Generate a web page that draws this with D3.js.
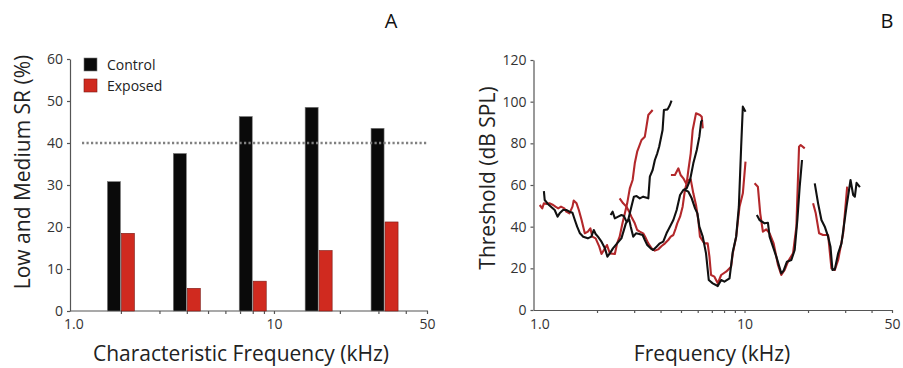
<!DOCTYPE html>
<html>
<head>
<meta charset="utf-8">
<script src="https://cdn.jsdelivr.net/npm/d3@7"></script>
<style>
    body { margin: 0; background: #fff; }
    svg { font-family: "Open Sans", sans-serif; }
</style>
</head>
<body>
<div id="chart"></div>
<script>
// panel A - bars at octave centre frequencies
var bandFreqs = [2, 4, 8, 16, 32];
var controlPct = [30.8, 37.5, 46.3, 48.5, 43.5];
var exposedPct = [18.5, 5.4, 7.1, 14.4, 21.2];
var criterionPct = 40;
var yTicksA = [0, 10, 20, 30, 40, 50, 60];
var seriesNames = ["Control", "Exposed"];

// panel B - tuning curves, [kHz, dB SPL]
var ctl1 = [[1.12, 57.1], [1.13, 52.8], [1.17, 50.9], [1.21, 49.6], [1.26, 48.0], [1.30, 44.8], [1.33, 46.4], [1.38, 48.0], [1.43, 48.0], [1.48, 47.2], [1.53, 46.7], [1.57, 43.2], [1.61, 40.0], [1.66, 36.8], [1.72, 35.2], [1.81, 34.4], [1.88, 35.2], [1.93, 38.4], [1.97, 36.5], [2.02, 35.2], [2.10, 32.8], [2.18, 29.6], [2.24, 25.6], [2.30, 27.2], [2.38, 29.6], [2.49, 32.0], [2.61, 34.4], [2.74, 41.6], [2.81, 43.2], [2.91, 49.6], [2.99, 54.4], [3.08, 54.7], [3.19, 53.6], [3.31, 54.4], [3.50, 53.6], [3.56, 64.0], [3.67, 67.2], [3.76, 72.0], [3.86, 75.2], [3.94, 78.4], [4.00, 81.6], [4.09, 86.4], [4.15, 96.0], [4.32, 96.3], [4.43, 98.4], [4.51, 100.5]];
var ctl2 = [[2.32, 45.6], [2.37, 47.2], [2.43, 44.0], [2.52, 44.8], [2.61, 45.6], [2.68, 45.1], [2.76, 42.4], [2.84, 43.5], [2.89, 40.0], [2.97, 35.2], [3.06, 36.8], [3.17, 36.5], [3.29, 36.0], [3.37, 33.6], [3.46, 31.2], [3.59, 29.6], [3.69, 28.8], [3.83, 30.4], [3.97, 32.0], [4.12, 32.8], [4.27, 36.8], [4.43, 40.0], [4.60, 43.2], [4.77, 48.0], [4.95, 55.2], [5.13, 57.6], [5.32, 58.4], [5.52, 62.4], [5.72, 70.4], [5.94, 76.8], [6.11, 83.2], [6.23, 90.4], [6.31, 91.2]];
var ctl3 = [[5.22, 57.6], [5.42, 56.8], [5.62, 53.6], [5.83, 48.8], [5.98, 46.4], [6.11, 40.0], [6.34, 35.2], [6.57, 27.2], [6.77, 14.4], [7.07, 12.8], [7.47, 11.5], [7.75, 14.4], [8.03, 13.6], [8.49, 15.2], [8.80, 28.0], [9.13, 35.2], [9.40, 49.6], [9.64, 78.4], [9.82, 97.6], [10.11, 95.2]];
var ctl4 = [[11.44, 45.6], [11.78, 43.2], [12.45, 41.6], [12.91, 41.9], [13.15, 35.2], [13.64, 30.4], [14.15, 25.6], [14.94, 17.6], [15.32, 18.9], [15.89, 23.2], [16.67, 24.0], [17.29, 28.8], [17.80, 43.2], [18.26, 59.2], [18.73, 72.0]];
var ctl5 = [[21.52, 60.8], [22.32, 51.2], [23.15, 43.2], [24.01, 40.0], [24.90, 35.2], [25.55, 30.4], [26.11, 19.2], [26.79, 19.5], [27.78, 27.2], [28.81, 32.0], [30.44, 49.6], [31.80, 62.4], [32.74, 55.2], [33.34, 54.4], [33.96, 61.0], [35.23, 59.0]];

var exp1 = [[1.07, 50.4], [1.10, 48.8], [1.12, 51.2], [1.15, 50.9], [1.19, 51.2], [1.24, 50.4], [1.27, 49.6], [1.31, 48.8], [1.35, 49.6], [1.40, 48.8], [1.43, 47.2], [1.48, 46.4], [1.53, 49.6], [1.55, 52.5], [1.60, 51.2], [1.64, 48.0], [1.69, 43.2], [1.75, 36.8], [1.81, 37.6], [1.86, 39.2], [1.90, 35.2], [1.97, 34.4], [2.05, 30.4], [2.10, 26.9], [2.18, 29.6], [2.23, 31.2], [2.30, 27.2], [2.43, 26.9], [2.49, 32.0], [2.56, 35.2], [2.64, 41.6], [2.71, 46.4], [2.78, 51.2], [2.86, 58.4], [2.95, 62.4], [3.02, 70.4], [3.10, 76.0], [3.25, 81.6], [3.37, 83.2], [3.43, 88.0], [3.50, 93.6], [3.67, 96.0]];
var exp2 = [[2.56, 53.6], [2.66, 51.2], [2.76, 49.6], [2.84, 47.2], [2.91, 44.8], [3.02, 41.6], [3.10, 38.4], [3.19, 37.6], [3.31, 36.8], [3.41, 34.4], [3.50, 32.0], [3.63, 29.6], [3.76, 28.5], [3.90, 29.1], [4.05, 30.7], [4.20, 32.0], [4.35, 33.6], [4.47, 35.2], [4.60, 36.0], [4.72, 39.2], [4.80, 41.6], [4.95, 44.8], [5.09, 49.6], [5.22, 57.6], [5.32, 60.8], [5.42, 67.2], [5.56, 75.2], [5.68, 86.4], [5.89, 94.4], [6.15, 93.6], [6.27, 92.8], [6.34, 87.2]];
var exp3 = [[4.48, 64.8], [4.68, 64.8], [4.86, 68.0], [4.98, 64.8], [5.13, 63.2], [5.28, 60.8], [5.42, 62.4], [5.56, 62.7], [5.72, 56.0], [5.89, 50.4], [6.04, 43.2], [6.15, 35.2], [6.45, 32.0], [6.69, 32.0], [6.82, 25.6], [6.94, 16.8], [7.20, 16.0], [7.47, 12.8], [7.75, 16.8], [8.18, 18.4], [8.64, 20.8], [8.80, 27.2], [9.13, 35.2], [9.47, 49.6], [9.82, 56.0], [10.11, 71.2]];
var exp4 = [[11.16, 60.8], [11.57, 59.2], [11.87, 46.4], [12.22, 37.6], [12.68, 38.7], [13.15, 36.8], [13.74, 32.0], [14.41, 21.6], [14.94, 16.8], [15.49, 19.2], [16.07, 23.2], [16.98, 27.2], [17.61, 40.0], [18.13, 78.4], [18.46, 79.2], [19.29, 77.6]];
var exp5 = [[21.13, 51.2], [21.76, 46.4], [22.57, 36.8], [23.57, 36.0], [24.90, 36.0], [25.82, 20.0], [26.79, 19.2], [27.78, 24.0], [29.35, 36.8], [30.66, 59.2]];

var yTicksB = [0, 20, 40, 60, 80, 100, 120];
var freqTicks = [2, 3, 4, 5, 6, 7, 8, 9, 10, 20, 30, 40, 50];

var barBlack = "#0a0a0a";
var barRed = "#d02a1f";
var lineBlack = "#111";
var lineRed = "#b3282b";

var svg = d3.select("#chart")
    .append("svg")
    .attr("width", 903)
    .attr("height", 368);

function styleAxis(g) {
    g.selectAll("path, line").attr("stroke", "#555").attr("stroke-width", 1.2);
    g.selectAll("text").attr("fill", "#333").style("font-size", "14px").style("font-family", "Open Sans, sans-serif");
}

function drawPanelA() {
    var x = d3.scaleLog().domain([1, 50]).range([55, 427]);
    var y = d3.scaleLinear().domain([0, 60]).range([311, 59]);
    var g = svg.append("g");

    // x axis: drawn from 1.0 position at the y axis
    var xa = g.append("g")
        .attr("transform", "translate(0,311)")
        .call(d3.axisBottom(x)
            .tickValues(freqTicks)
            .tickSize(3)
            .tickFormat(function (d) { return (d === 10 || d === 50) ? d : ""; }));
    xa.select(".domain").remove();
    xa.append("line").attr("x1", 70).attr("x2", 428).attr("y1", 0).attr("y2", 0);
    xa.append("text").attr("x", 64).attr("y", 8).attr("dy", "0.71em")
        .attr("text-anchor", "start").text("1.0");
    xa.selectAll(".tick text").attr("y", 8);
    styleAxis(xa);

    var ya = g.append("g")
        .attr("transform", "translate(70,0)")
        .call(d3.axisLeft(y).tickValues(yTicksA).tickSize(3).tickSizeOuter(0).tickPadding(4));
    styleAxis(ya);

    // bars
    g.selectAll(".ctl")
        .data(bandFreqs)
        .enter()
        .append("rect")
        .attr("x", function (d) { return x(d) - 13.5; })
        .attr("y", function (d, i) { return y(controlPct[i]); })
        .attr("width", 13)
        .attr("height", function (d, i) { return 311 - y(controlPct[i]); })
        .attr("fill", barBlack)
        .attr("stroke", "#777")
        .attr("stroke-width", 0.6);

    g.selectAll(".exp")
        .data(bandFreqs)
        .enter()
        .append("rect")
        .attr("x", function (d) { return x(d) + 0.5; })
        .attr("y", function (d, i) { return y(exposedPct[i]); })
        .attr("width", 13)
        .attr("height", function (d, i) { return 311 - y(exposedPct[i]); })
        .attr("fill", barRed)
        .attr("stroke", "#7a1a14")
        .attr("stroke-width", 0.6);

    // 40% line
    g.append("line")
        .attr("x1", 82).attr("x2", 428)
        .attr("y1", y(criterionPct)).attr("y2", y(criterionPct))
        .attr("stroke", "#808080")
        .attr("stroke-width", 2.5)
        .attr("stroke-dasharray", "2.2,2.3");

    // legend
    var legColors = [barBlack, barRed];
    seriesNames.forEach(function (name, i) {
        g.append("rect")
            .attr("x", 84).attr("y", 58 + i * 21)
            .attr("width", 13).attr("height", 13)
            .attr("fill", legColors[i])
            .attr("stroke", i ? "#7a1a14" : "#777")
            .attr("stroke-width", 0.6);
        g.append("text")
            .attr("x", 107).attr("y", 70 + i * 21)
            .style("font-size", "14px")
            .attr("fill", "#222")
            .text(name);
    });

    g.append("text")
        .attr("transform", "translate(30,172) rotate(-90)")
        .attr("text-anchor", "middle")
        .style("font-size", "21px")
        .attr("fill", "#222")
        .text("Low and Medium SR (%)");

    g.append("text")
        .attr("x", 241).attr("y", 361)
        .attr("text-anchor", "middle")
        .style("font-size", "21px")
        .attr("fill", "#222")
        .text("Characteristic Frequency (kHz)");

    g.append("text")
        .attr("x", 391).attr("y", 28)
        .attr("text-anchor", "middle")
        .style("font-size", "20px")
        .attr("fill", "#111")
        .text("A");
}

function drawPanelB() {
    var x = d3.scaleLog().domain([1, 50]).range([533.5, 892]);
    var y = d3.scaleLinear().domain([0, 120]).range([310, 60]);
    var g = svg.append("g");

    var xa = g.append("g")
        .attr("transform", "translate(0,310)")
        .call(d3.axisBottom(x)
            .tickValues(freqTicks)
            .tickSize(3)
            .tickSizeOuter(0)
            .tickPadding(6)
            .tickFormat(function (d) { return (d === 10 || d === 50) ? d : ""; }));
    xa.append("text").attr("x", 530).attr("y", 9).attr("dy", "0.71em")
        .attr("text-anchor", "start").text("1.0");
    styleAxis(xa);

    var ya = g.append("g")
        .attr("transform", "translate(533.5,0)")
        .call(d3.axisLeft(y).tickValues(yTicksB).tickSize(3).tickSizeOuter(0).tickPadding(4));
    styleAxis(ya);

    var line = d3.line()
        .x(function (d) { return x(d[0]); })
        .y(function (d) { return y(d[1]); });

    var curves = [
        [exp1, lineRed], [exp2, lineRed], [exp3, lineRed], [exp4, lineRed], [exp5, lineRed],
        [ctl1, lineBlack], [ctl2, lineBlack], [ctl3, lineBlack], [ctl4, lineBlack], [ctl5, lineBlack]
    ];

    g.selectAll(".tc")
        .data(curves)
        .enter()
        .append("path")
        .attr("class", "tc")
        .attr("d", function (d) { return line(d[0]); })
        .attr("fill", "none")
        .attr("stroke", function (d) { return d[1]; })
        .attr("stroke-width", 2.1)
        .attr("stroke-linejoin", "round");

    g.append("text")
        .attr("transform", "translate(495,178) rotate(-90)")
        .attr("text-anchor", "middle")
        .style("font-size", "21px")
        .attr("fill", "#222")
        .text("Threshold (dB SPL)");

    g.append("text")
        .attr("x", 712).attr("y", 361)
        .attr("text-anchor", "middle")
        .style("font-size", "21px")
        .attr("fill", "#222")
        .text("Frequency (kHz)");

    g.append("text")
        .attr("x", 887).attr("y", 28)
        .attr("text-anchor", "middle")
        .style("font-size", "20px")
        .attr("fill", "#111")
        .text("B");
}

drawPanelA();
drawPanelB();
</script>
</body>
</html>
